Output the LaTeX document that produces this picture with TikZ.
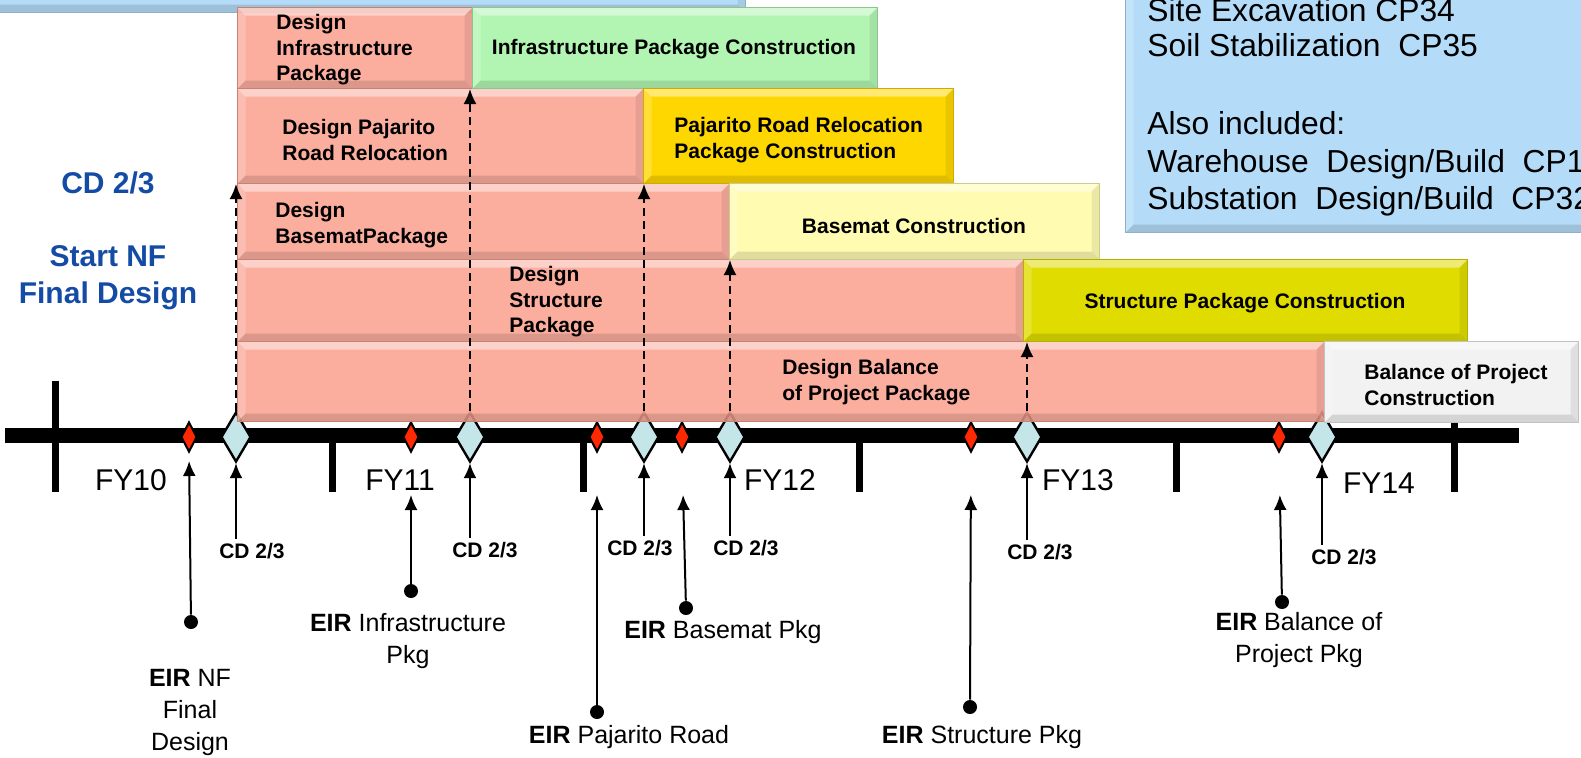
\documentclass[tikz,border=0pt]{standalone}
\usepackage{fontspec}
\setmainfont{Liberation Sans}
\usetikzlibrary{arrows.meta,shapes.geometric}

\definecolor{pinkbar}{RGB}{250,162,145}
\definecolor{greenbar}{RGB}{178,245,178}
\definecolor{goldbar}{RGB}{255,215,0}
\definecolor{palebar}{RGB}{255,252,178}
\definecolor{olivebar}{RGB}{224,220,0}
\definecolor{greybar}{RGB}{242,242,242}
\definecolor{skybox}{RGB}{180,220,248}
\definecolor{iceblue}{RGB}{196,230,232}
\definecolor{milered}{RGB}{255,40,0}
\definecolor{titleblue}{RGB}{20,75,165}

\begin{document}
\begin{tikzpicture}[x=0.5pt,y=-0.5pt,>={Latex[length=7.5pt,width=6.5pt]},
    bevel/.style={path picture={
        \coordinate (bvnw) at (path picture bounding box.north west);
        \coordinate (bvne) at (path picture bounding box.north east);
        \coordinate (bvsw) at (path picture bounding box.south west);
        \coordinate (bvse) at (path picture bounding box.south east);
        \fill[white,opacity=0.45] (bvnw) -- (bvne) -- ([shift={(-4pt,-4pt)}]bvne) -- ([shift={(4pt,-4pt)}]bvnw) -- cycle;
        \fill[white,opacity=0.2] (bvnw) -- (bvsw) -- ([shift={(4pt,4pt)}]bvsw) -- ([shift={(4pt,-4pt)}]bvnw) -- cycle;
        \fill[black,opacity=0.12] (bvsw) -- (bvse) -- ([shift={(-4pt,4pt)}]bvse) -- ([shift={(4pt,4pt)}]bvsw) -- cycle;
        \fill[black,opacity=0.08] (bvne) -- (bvse) -- ([shift={(-4pt,4pt)}]bvse) -- ([shift={(-4pt,-4pt)}]bvne) -- cycle;
    }},
    bar/.style={rectangle,inner sep=0pt,anchor=north west,fill=#1,draw=#1!80!black,line width=0.5pt,bevel},
    bartext/.style={anchor=west,align=left,inner sep=0pt,font=\fontsize{10.5}{12.8}\selectfont\bfseries},
    milestone/.style={diamond,draw,line width=1.2pt,fill=iceblue,minimum width=15pt,minimum height=25pt,inner sep=0pt},
    eirmark/.style={diamond,draw,line width=1pt,fill=milered,minimum width=8pt,minimum height=15pt,inner sep=0pt},
    eirdot/.style={circle,fill=black,minimum size=7pt,inner sep=0pt},
    cdlabel/.style={inner sep=2pt,font=\fontsize{10.5}{12.8}\selectfont\bfseries},
    eirlabel/.style={align=center,inner sep=0pt,font=\fontsize{12.5}{16}\selectfont},
    fylabel/.style={inner sep=0pt,font=\fontsize{15}{18}\selectfont},
    boxtext/.style={anchor=base west,inner sep=0pt,font=\fontsize{15.9}{18.5}\selectfont},
    cdtitle/.style={align=center,inner sep=0pt,text=titleblue,font=\fontsize{15}{18.5}\selectfont\bfseries},
    uparrow/.style={->,line width=1pt},
    startarrow/.style={->,line width=1pt,dash pattern=on 4pt off 2.5pt}]

      \useasboundingbox (0,0) rectangle (1581,757);
      \clip (0,0) rectangle (1581,757);

      % info boxes
      \node[bar=skybox,minimum width=382.5pt,minimum height=36pt] (topbox) at (-20,-60) {};
      \node[bar=skybox,minimum width=237.5pt,minimum height=126pt] (incbox) at (1125,-20) {};
      \node[boxtext] (inc1) at (1147,21) {Site Excavation CP34};
      \node[boxtext] (inc2) at (1147,56) {Soil Stabilization\ \ CP35};
      \node[boxtext] (inc3) at (1147,134) {Also included:};
      \node[boxtext] (inc4) at (1147,172) {Warehouse\ \ Design/Build\ \ CP1};
      \node[boxtext] (inc5) at (1147,209) {Substation\ \ Design/Build\ \ CP32};

      % time line
      \draw[line width=7.5pt] (5,435) -- (1519,435);
      \draw[line width=3.5pt] (55,381) -- (55,492);
      \foreach \x in {332,583,859,1176}
        \draw[line width=3.5pt] (\x,435) -- (\x,492);
      \draw[line width=3.5pt] (1454,420) -- (1454,492);
      \node[fylabel] (fy10) at (131,480) {FY10};
      \node[fylabel] (fy11) at (400,480) {FY11};
      \node[fylabel] (fy12) at (780,480) {FY12};
      \node[fylabel] (fy13) at (1078,480) {FY13};
      \node[fylabel] (fy14) at (1379,483) {FY14};

      % milestones on the line
      \node[milestone] (k1) at (236,437) {};
      \node[milestone] (k2) at (470,437) {};
      \node[milestone] (k3) at (644,437) {};
      \node[milestone] (k4) at (730,437) {};
      \node[milestone] (k5) at (1027,437) {};
      \node[milestone] (k6) at (1322,437) {};
      \node[eirmark] (m1) at (189,437) {};
      \node[eirmark] (m2) at (411,437) {};
      \node[eirmark] (m3) at (597,437) {};
      \node[eirmark] (m4) at (682,437) {};
      \node[eirmark] (m5) at (971,437) {};
      \node[eirmark] (m6) at (1279,437) {};

      % design packages
      \node[bar=pinkbar,fill opacity=0.88,minimum width=117.5pt,minimum height=40.5pt] (d1) at (237,7) {};
      \node[bar=pinkbar,fill opacity=0.88,minimum width=203pt,minimum height=47.5pt] (d2) at (237,88) {};
      \node[bar=pinkbar,fill opacity=0.88,minimum width=246pt,minimum height=38pt] (d3) at (237,183) {};
      \node[bar=pinkbar,fill opacity=0.88,minimum width=393pt,minimum height=41pt] (d4) at (237,259) {};
      \node[bar=pinkbar,fill opacity=0.88,minimum width=543.5pt,minimum height=40pt] (d5) at (237,341) {};

      % construction packages
      \node[bar=greenbar,minimum width=202.5pt,minimum height=40.5pt] (c1) at (472,7) {};
      \node[bar=goldbar,minimum width=155pt,minimum height=47.5pt] (c2) at (643,88) {};
      \node[bar=palebar,minimum width=185pt,minimum height=38pt] (c3) at (729,183) {};
      \node[bar=olivebar,minimum width=222pt,minimum height=41pt] (c4) at (1023,259) {};
      \node[bar=greybar,minimum width=127pt,minimum height=40.5pt] (c5) at (1324,341) {};

      \node[bartext] (t1) at (276,50) {Design\\Infrastructure\\Package};
      \node[bartext] (t2) at (282,140) {Design Pajarito\\Road Relocation};
      \node[bartext] (t3) at (275,225) {Design\\BasematPackage};
      \node[bartext] (t4) at (509,302) {Design\\Structure\\Package};
      \node[bartext] (t5) at (782,382) {Design Balance\\of Project Package};
      \node[bartext,anchor=center] (u1) at (674,49) {Infrastructure Package Construction};
      \node[bartext] (u2) at (674,140) {Pajarito Road Relocation\\Package Construction};
      \node[bartext,anchor=center] (u3) at (914,226) {Basemat Construction};
      \node[bartext,anchor=center] (u4) at (1245,303) {Structure Package Construction};
      \node[bartext] (u5) at (1364,385) {Balance of Project\\Construction};

      % CD 2/3 starts
      \draw[startarrow] (k1.north) -- (k1.north |- d2.south);
      \draw[startarrow] (k2.north) -- (k2.north |- c1.south);
      \draw[startarrow] (k3.north) -- (k3.north |- c2.south);
      \draw[startarrow] (k4.north) -- (k4.north |- c3.south);
      \draw[startarrow] (k5.north) -- (k5.north |- c4.south);

      \node[cdtitle] (cdstart) at (108,183) {CD 2/3};
      \node[cdtitle] (nfstart) at (108,278) {Start NF\\Final Design};

      % CD 2/3 labels
      \node[cdlabel] (l1) at (252,551) {CD 2/3};
      \node[cdlabel] (l2) at (485,550) {CD 2/3};
      \node[cdlabel] (l3) at (640,548) {CD 2/3};
      \node[cdlabel] (l4) at (746,548) {CD 2/3};
      \node[cdlabel] (l5) at (1040,552) {CD 2/3};
      \node[cdlabel] (l6) at (1344,557) {CD 2/3};
      \foreach \i in {1,...,6}
        \draw[uparrow] (k\i |- l\i.north) -- (k\i.south);

      % EIR reviews
      \node[eirdot] (e1) at (191,622) {};
      \node[eirdot] (e2) at (411,591) {};
      \node[eirdot] (e3) at (597,712) {};
      \node[eirdot] (e4) at (686,608) {};
      \node[eirdot] (e5) at (970,707) {};
      \node[eirdot] (e6) at (1282,602) {};
      \draw[uparrow,shorten >=4pt] (e1) -- (m1.south);
      \foreach \i in {2,...,6}
        \draw[uparrow,shorten >=21pt] (e\i) -- (m\i.south);

      \node[eirlabel] (r1) at (190,712) {\textbf{EIR} NF\\Final\\Design};
      \node[eirlabel] (r2) at (408,641) {\textbf{EIR} Infrastructure\\Pkg};
      \node[eirlabel] (r3) at (629,737) {\textbf{EIR} Pajarito Road};
      \node[eirlabel] (r4) at (723,632) {\textbf{EIR} Basemat Pkg};
      \node[eirlabel] (r5) at (982,737) {\textbf{EIR} Structure Pkg};
      \node[eirlabel] (r6) at (1299,640) {\textbf{EIR} Balance of\\Project Pkg};
\end{tikzpicture}
\end{document}
